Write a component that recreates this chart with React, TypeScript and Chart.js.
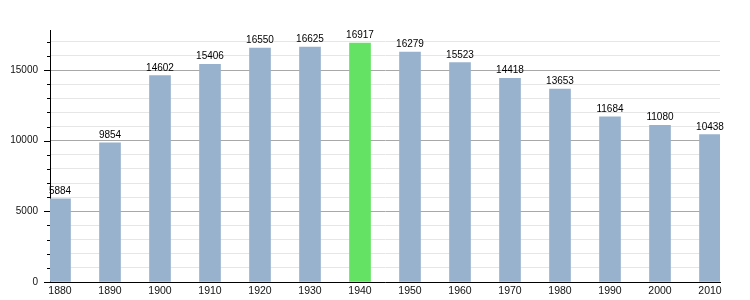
import React, { useEffect, useRef } from "react";
import { Chart, registerables } from "chart.js";

Chart.register(...registerables);

const years = [1880, 1890, 1900, 1910, 1920, 1930, 1940, 1950, 1960, 1970, 1980, 1990, 2000, 2010];
const population = [5884, 9854, 14602, 15406, 16550, 16625, 16917, 16279, 15523, 14418, 13653, 11684, 11080, 10438];
const yTicks = [0, 1000, 2000, 3000, 4000, 5000, 6000, 7000, 8000, 9000, 10000, 11000, 12000, 13000, 14000, 15000, 16000, 17000];
const yLabelTicks = [0, 5000, 10000, 15000];
const highlightYear = 1940;
const barColor = "#98b2cd";
const highlightColor = "#63e263";
const FONT = "'Liberation Sans', Arial, sans-serif";

const tickMarks = {
  id: "tickMarks",
  afterDraw(chart: any) {
    const s = chart.scales.y;
    const ctx = chart.ctx;
    ctx.save();
    ctx.strokeStyle = "#000";
    ctx.lineWidth = 1;
    yTicks.forEach((v) => {
      const y = Math.round(s.getPixelForValue(v)) + 0.5;
      const len = yLabelTicks.includes(v) ? 6 : 3;
      ctx.beginPath();
      ctx.moveTo(s.right - len, y);
      ctx.lineTo(s.right, y);
      ctx.stroke();
    });
    ctx.restore();
  },
};

const valueLabels = {
  id: "valueLabels",
  afterDatasetsDraw(chart: any) {
    const ctx = chart.ctx;
    const meta = chart.getDatasetMeta(0);
    ctx.save();
    ctx.font = `10px ${FONT}`;
    ctx.fillStyle = "#000";
    ctx.textAlign = "center";
    ctx.textBaseline = "alphabetic";
    meta.data.forEach((bar: any, i: number) => {
      ctx.fillText(String(population[i]), bar.x, bar.y - 5);
    });
    ctx.restore();
  },
};

export default function App() {
  const ref = useRef<HTMLCanvasElement | null>(null);
  useEffect(() => {
    document.body.style.margin = "0";
    const chart = new Chart(ref.current as HTMLCanvasElement, {
      type: "bar",
      data: {
        datasets: [
          {
            data: years.map((y, i) => ({ x: y, y: population[i] })) as any,
            backgroundColor: years.map((y) => (y === highlightYear ? highlightColor : barColor)),
            barThickness: 21,
            borderWidth: 0,
          },
        ],
      },
      options: {
        animation: false,
        responsive: false,
        maintainAspectRatio: false,
        layout: { padding: { top: 30, right: 30, left: 0, bottom: 0 } },
        plugins: { legend: { display: false }, tooltip: { enabled: false } },
        scales: {
          x: {
            type: "linear",
            offset: false,
            min: 1878,
            max: 2012,
            afterBuildTicks: (scale: any) => {
              scale.ticks = years.map((v) => ({ value: v }));
            },
            afterFit: (scale: any) => {
              scale.height = 18;
            },
            grid: { display: false, drawTicks: false },
            border: { display: true, color: "#000", width: 1 },
            ticks: {
              autoSkip: false,
              maxRotation: 0,
              padding: 3,
              color: "#111",
              font: { family: FONT, size: 10.5 },
              callback: (v: any) => String(v),
            },
          },
          y: {
            type: "linear",
            min: 0,
            max: 17835,
            afterBuildTicks: (scale: any) => {
              scale.ticks = yTicks.map((v) => ({ value: v }));
            },
            afterFit: (scale: any) => {
              scale.width = 50;
            },
            grid: {
              drawTicks: false,
              color: (c: any) => (c.tick && yLabelTicks.includes(c.tick.value) ? "#a8a8a8" : "#e6e6e6"),
            },
            border: { display: true, color: "#000", width: 1 },
            ticks: {
              autoSkip: false,
              padding: 12,
              color: "#111",
              font: { family: FONT, size: 10 },
              callback: (v: any) => (yLabelTicks.includes(Number(v)) ? String(v) : ""),
            },
          },
        },
      },
      plugins: [valueLabels, tickMarks],
    });
    return () => chart.destroy();
  }, []);
  return <canvas ref={ref} width={750} height={300} style={{ display: "block" }} />;
}
